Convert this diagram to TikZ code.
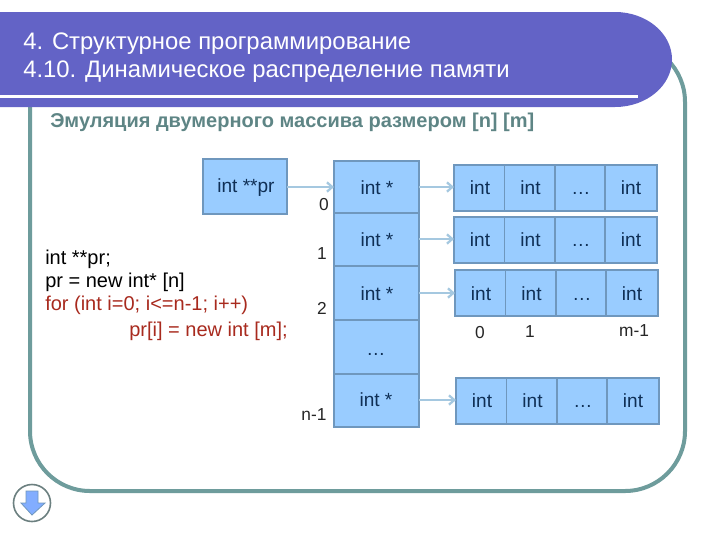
\documentclass[tikz,border=0pt]{standalone}
\usepackage{fontspec}
\usetikzlibrary{arrows.meta}
\setmainfont{Liberation Sans}
\begin{document}
\begin{tikzpicture}[x=0.75pt,y=-0.75pt,
  cell/.style={draw=boxedge,fill=boxfill,line width=1.4pt,minimum width=0pt,inner sep=0pt,text=textnavy},
  lab/.style={font=\fontsize{13}{15}\selectfont,text=black!85,inner sep=0pt},
  cellt/.style={font=\fontsize{14.3}{16}\selectfont,text=textnavy,inner sep=0pt},
  conn/.style={draw=arrowc,line width=1.7pt,-{Straight Barb[length=4pt,width=7pt]}},
  codeb/.style={font=\fontsize{15}{17}\selectfont,anchor=west,inner sep=0pt}]
\definecolor{boxedge}{HTML}{6F97BD}
\definecolor{boxfill}{HTML}{99CCFF}
\definecolor{textnavy}{HTML}{0F2F55}
\definecolor{arrowc}{HTML}{A5C8E0}
\definecolor{frame}{HTML}{6E9C9C}
\definecolor{headc}{HTML}{6363C6}
\definecolor{redc}{HTML}{A82A1E}
\useasboundingbox (0,0) rectangle (720,540);
\fill[white] (0,0) rectangle (720,540);
% frame
\draw[frame,line width=3pt,rounded corners=45pt] (30,42) rectangle (685,491);
% header
\fill[headc] (0,12) -- (615,12) arc[start angle=90,end angle=-90,x radius=57,y radius=-47.5] -- (0,107) -- cycle;
\fill[white] (0,95) rectangle (638,98);
\node[anchor=base west,inner sep=0pt,text=white,font=\fontsize{17.9}{20}\selectfont] (t1) at (23,49) {4. Структурное программирование};
\node[anchor=base west,inner sep=0pt,text=white,font=\fontsize{17.9}{20}\selectfont] (t2) at (23,77) {4.10. Динамическое распределение памяти};
\node[anchor=base west,inner sep=0pt,text=frame!85!black,font=\bfseries\fontsize{15}{17}\selectfont] (sub) at (50,127) {Эмуляция двумерного массива размером [n] [m]};
% pr box
\node[cell,minimum width=63pt,minimum height=41pt] (pr) at (245,186.5) {};
\node[cellt] (prt) at (246,188) {int **pr};
% pointer column
\foreach \n/\ya/\yb in {p0/161/213,p1/213/266,p2/266/320,pd/320/374,pn/374/427}{
  \path[draw=boxedge,fill=boxfill,line width=1.4pt] (334,\ya) rectangle (419,\yb) coordinate (\n-br);
  \coordinate (\n) at (376.5,{(\ya+\yb)/2});
}
\node[cellt] (pt0) at (377,188) {int *};
\node[cellt] (pt1) at (377,240) {int *};
\node[cellt] (pt2) at (377,294) {int *};
\node[cellt] (ptd) at (376,354) {…};
\node[cellt] (ptn) at (376,400) {int *};
% rows
\foreach \r/\ya/\yb/\xa/\tx/\lbl in {a/165/211/454/188/a,b/217/263/454/240/b,c/270/316/455/294/c,d/378/424/456/401/d}{
  \foreach \i/\w/\t/\dy in {0/0/int/0,1/50.5/int/0,2/101/…/5,3/151/int/0}{
    \path[draw=boxedge,fill=boxfill,line width=1.4pt] ({\xa+\w},\ya) rectangle ({\xa+\w+(\i==3?52:(\i==2?50:50.5))},\yb);
    \node[cellt] (\r\i) at ({\xa+\w+26},{\tx+\dy}) {\t};
  }
  \coordinate (\lbl-in) at (\xa,\tx);
}
% connectors
\coordinate (pre) at (287,187);
\coordinate (pin) at (334,187);
\draw[conn] (pre) -- (pin);
\coordinate (s0) at (419,187);
\coordinate (s1) at (419,239);
\coordinate (s2) at (419,293);
\coordinate (s3) at (419,400);
\draw[conn] (s0) -- (a-in |- s0);
\draw[conn] (s1) -- (b-in |- s1);
\draw[conn] (s2) -- (c-in |- s2);
\draw[conn] (s3) -- (d-in |- s3);
% index labels
\node[lab] (i0) at (324,205) {0};
\node[lab] (i1) at (322,254) {1};
\node[lab] (i2) at (322,308) {2};
\node[lab] (in) at (314,415) {n-1};
\node[lab] (c0) at (480,333) {0};
\node[lab] (c1) at (530,332) {1};
\node[lab] (cm) at (634,331) {m-1};
% code
\node[codeb] (c1l) at (45,259) {int **pr;};
\node[codeb] (c2l) at (45,282) {pr = new int* [n]};
\node[codeb,text=redc] (c3l) at (45,305) {for (int i=0; i<=n-1; i++)};
\node[codeb,text=redc] (c4l) at (129,331) {pr[i] = new int [m];};
% nav button
\draw[gray!85!teal,line width=1.2pt,fill=white] (32,503) circle[radius=18.5];
\fill[boxfill!85!blue,draw=boxedge,line width=.6pt] (26,491) -- (38,491) -- (38,503) -- (45,503) -- (32,515) -- (21,503) -- (26,503) -- cycle;
\end{tikzpicture}
\end{document}
